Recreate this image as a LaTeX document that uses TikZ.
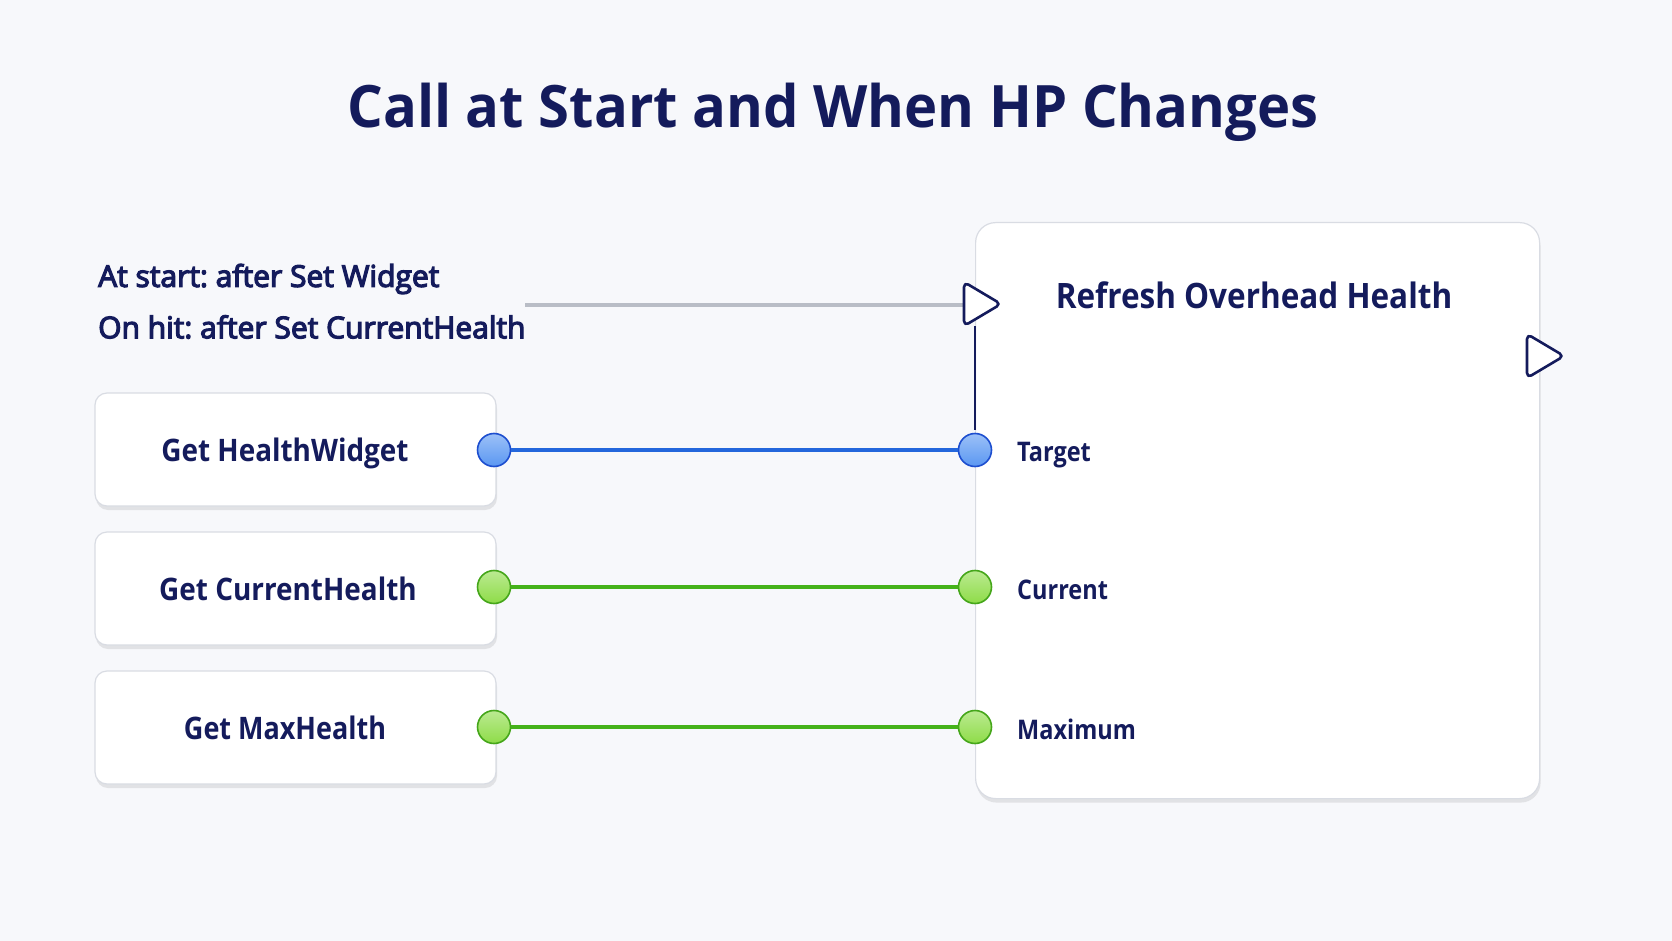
\documentclass[tikz,border=0pt]{standalone}
\usepackage{fontspec}
\setmainfont{Open Sans}
\newfontfamily\notefont[FakeBold=4]{Open Sans}
\newfontfamily\condfont[FakeStretch=0.9]{Open Sans}
\newfontfamily\labfont[FakeStretch=0.87]{Open Sans}
\newfontfamily\titlefont[FakeStretch=0.96]{Open Sans}
\frenchspacing
\usetikzlibrary{shadows}
\definecolor{bg}{HTML}{F7F8FB}
\definecolor{navy}{HTML}{141B5C}
\definecolor{boxline}{HTML}{D9DCE3}
\definecolor{wireblue}{HTML}{2467DC}
\definecolor{pinblue}{HTML}{5A97F2}
\definecolor{pinblueb}{HTML}{1D4ECF}
\definecolor{wiregreen}{HTML}{45B21A}
\definecolor{pingreen}{HTML}{8EDC48}
\definecolor{pingreenb}{HTML}{45A61A}
\definecolor{execgrey}{HTML}{B9BDC6}
\tikzset{
  nodebox/.style={draw=boxline, line width=1.2pt, fill=white, rounded corners=12pt,
    drop shadow={shadow xshift=1pt, shadow yshift=-4pt, opacity=0.16, fill=black!55}},
  getbox/.style={nodebox, minimum width=401pt, minimum height=113pt, inner sep=0pt},
  gettext/.style={inner sep=0pt, text depth=0pt, font=\condfont\fontsize{31}{36}\selectfont\bfseries, text=navy},
  bluepin/.style={circle, draw=pinblueb, line width=1.6pt, inner sep=0pt, minimum size=33pt,
    top color=pinblue!60!white, bottom color=pinblue},
  greenpin/.style={circle, draw=pingreenb, line width=1.6pt, inner sep=0pt, minimum size=33pt,
    top color=pingreen!60!white, bottom color=pingreen},
  bluewire/.style={draw=wireblue, line width=3.5pt},
  greenwire/.style={draw=wiregreen, line width=3.5pt},
  pinlabel/.style={anchor=west, font=\labfont\fontsize{27}{30}\selectfont\bfseries, text=navy, inner sep=0pt},
  notetext/.style={anchor=west, font=\notefont\fontsize{30}{34}\selectfont, text=navy, inner sep=0pt},
  exectri/.style={draw=navy, fill=white, line width=2.6pt, rounded corners=5pt, line join=round},
}
\begin{document}
\begin{tikzpicture}[x=1pt, y=-1pt]
\useasboundingbox (0,0) rectangle (1672,941);
\fill[bg] (0,0) rectangle (1672,941);

% title
\node[font=\titlefont\fontsize{58.5}{66}\selectfont\bfseries, text=navy, inner sep=0pt] (title) at (833,112) {Call at Start and When HP Changes};

% note text
\node[notetext] (note1) at (98,279) {At start: after Set Widget};
\node[notetext] (note2) at (98,327) {On hit: after Set CurrentHealth};

% main node
\node[nodebox, anchor=north west, minimum width=564pt, minimum height=576pt, rounded corners=20pt] (main) at (975,222) {};
\node[font=\condfont\fontsize{35}{40}\selectfont\bfseries, text=navy, inner sep=0pt] (mtitle) at (1254,295) {Refresh Overhead Health};

% left nodes
\node[getbox] (gw) at (295.5,449.5) {};
\node[getbox] (gc) at (295.5,588.5) {};
\node[getbox] (gm) at (295.5,727.5) {};
\node[gettext] (gwt) at (285,449.5) {Get HealthWidget};
\node[gettext] (gct) at (288,588.5) {Get CurrentHealth};
\node[gettext, font=\labfont\fontsize{31}{36}\selectfont\bfseries] (gmt) at (285,727.5) {Get MaxHealth};

% exec wire and pins
\coordinate (execstart) at (525,305);
\coordinate (ein) at (981,304);
\coordinate (eout) at (1544,356);
\draw[navy, line width=1.4pt] (975,326) -- (975,430);
\draw[execgrey, line width=3.5pt] (execstart) -- (963,305);
\draw[exectri] (964,282) -- (1001,304) -- (964,326) -- cycle;
\draw[exectri] (1527,334) -- (1564,356) -- (1527,378) -- cycle;

% data pins
\node[bluepin] (pw) at (494,450) {};
\node[greenpin] (pc) at (494,587) {};
\node[greenpin] (pm) at (494,727) {};
\node[bluepin] (tw) at (975,450) {};
\node[greenpin] (tc) at (975,587) {};
\node[greenpin] (tm) at (975,727) {};
\draw[bluewire] (pw) -- (tw);
\draw[greenwire] (pc) -- (tc);
\draw[greenwire] (pm) -- (tm);

\node[pinlabel] (lt) at (1017,455) {Target};
\node[pinlabel] (lc) at (1017,590) {Current};
\node[pinlabel] (lm) at (1017,729) {Maximum};
\end{tikzpicture}
\end{document}
